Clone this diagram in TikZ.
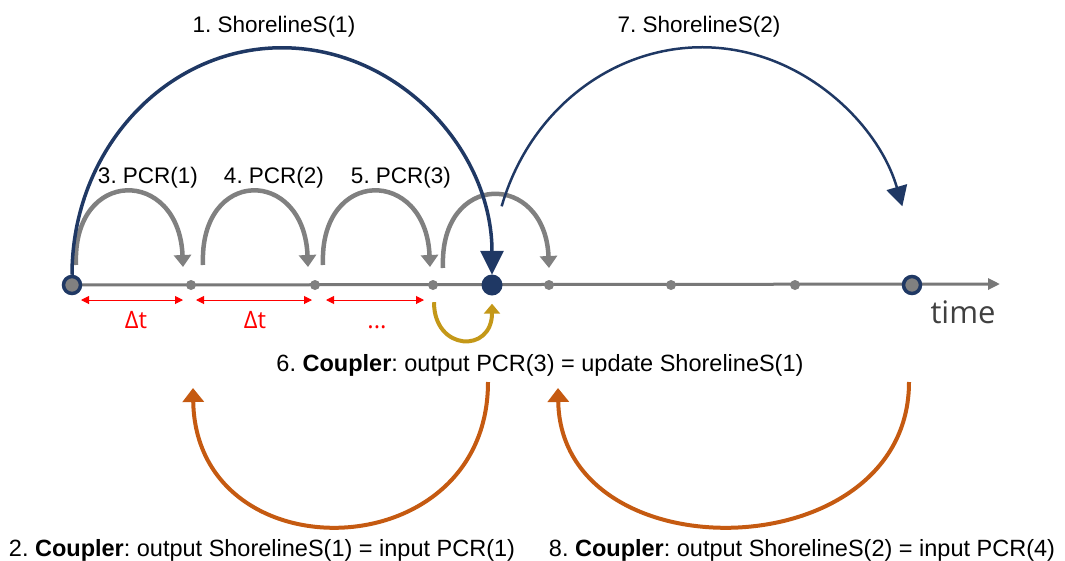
\documentclass[tikz,border=0pt]{standalone}
\usepackage{fontspec}
\setmainfont{Liberation Sans}
\newfontfamily\opensans{Open Sans}
\usetikzlibrary{arrows.meta,calc}
\frenchspacing

\definecolor{navy}{RGB}{31,56,100}
\definecolor{stepgray}{RGB}{128,128,128}
\definecolor{axisgray}{RGB}{120,120,120}
\definecolor{gold}{RGB}{196,152,24}
\definecolor{rust}{RGB}{197,90,17}
\definecolor{timegray}{RGB}{64,64,64}

\tikzset{
  lbl/.style={font=\fontsize{22.5}{27}\selectfont, anchor=base, inner sep=0pt},
  cpl/.style={font=\fontsize{23.5}{28}\selectfont, anchor=base, inner sep=0pt},
  dt/.style={font=\opensans\fontsize{24}{28}\selectfont, text=red, anchor=base, inner sep=0pt},
  tick/.style={circle, fill=stepgray, minimum size=10pt, inner sep=0pt},
  ring/.style={circle, draw=navy, line width=3.5pt, fill=stepgray, minimum size=17pt, inner sep=0pt},
  bigdot/.style={circle, fill=navy, minimum size=21pt, inner sep=0pt},
  pcr/.style={draw=stepgray, line width=4.5pt, -{Triangle[length=12pt,width=17pt]}},
  ship/.style={draw=navy, line width=3.5pt, -{Triangle[length=24pt,width=23pt]}},
  shipthin/.style={draw=navy, line width=2.5pt, -{Triangle[length=20pt,width=21pt]}},
  goldarc/.style={draw=gold, line width=4pt, -{Triangle[length=10pt,width=16pt]}},
  rustarc/.style={draw=rust, line width=4pt, -{Triangle[length=14pt,width=21pt]}},
  span/.style={draw=red, line width=1pt, {Triangle[length=8pt,width=8pt]}-{Triangle[length=8pt,width=8pt]}}
}

\begin{document}
\begin{tikzpicture}[x=1pt,y=1pt]
\useasboundingbox (0,0) rectangle (1065,-560);

% time axis
\coordinate (axisend) at (1000,-284);
\coordinate (axisstart) at (72,-285);
\draw[axisgray, line width=3pt, -{Triangle[length=12pt,width=11pt]}] (axisstart) -- (axisend);

% time steps
\node[ring]   (p0) at (72,-285) {};
\node[tick]   (p1) at (191,-285) {};
\node[tick]   (p2) at (315,-285) {};
\node[tick]   (p3) at (433,-285) {};
\node[bigdot] (p4) at (492,-285) {};
\node[tick]   (p5) at (549,-285) {};
\node[tick]   (p6) at (671,-285) {};
\node[tick]   (p7) at (795,-285) {};
\node[ring]   (p8) at (912,-285) {};

\node[font=\opensans\fontsize{31}{36}\selectfont, text=timegray, anchor=base, inner sep=0pt] (timelbl) at (963,-323) {time};

% PCR steps
\draw[pcr] ($(p0)+(4,20)$)  .. controls +(-4,98) and +(-4,100) .. ($(p1)+(-8,18)$);
\draw[pcr] ($(p1)+(12,20)$) .. controls +(-4,98) and +(-4,100) .. ($(p2)+(-7,18)$);
\draw[pcr] ($(p2)+(8,20)$)  .. controls +(-4,98) and +(-4,100) .. ($(p3)+(-3,18)$);
\draw[pcr] ($(p3)+(10,17)$) .. controls +(-4,97) and +(-4,97) .. ($(p5)+(0,17)$);

\node[lbl] (l3) at (148,-183) {3. PCR(1)};
\node[lbl] (l4) at (274,-183) {4. PCR(2)};
\node[lbl] (l5) at (401,-183) {5. PCR(3)};

% ShorelineS steps
\draw[ship] (p0.north) arc[start angle=180, end angle=0, x radius=210, y radius=227];
\coordinate (s2start) at ($(p4.north)+({210-210*cos(17.43)},68)$);
\draw[shipthin] (s2start) arc[start angle=162.57, end angle=17.43, x radius=210, y radius=227];

\node[lbl] (l1) at (274,-32) {1. ShorelineS(1)};
\node[lbl] (l7) at (699,-32) {7. ShorelineS(2)};

% step sizes
\draw[span] ($(p0)+(9,-15)$) -- ($(p1)+(-8,-15)$);
\draw[span] ($(p1)+(5,-15)$) -- ($(p2)+(-3,-15)$);
\draw[span] ($(p2)+(11,-15)$) -- ($(p3)+(-9,-15)$);
\node[dt] (d1) at (136,-328) {Δt};
\node[dt] (d2) at (255,-328) {Δt};
\node[dt] (d3) at (377,-328) {...};

% coupler: PCR(3) -> ShorelineS(1)
\draw[goldarc] ($(p3.south)+(1,-12)$) .. controls +(0,-49) and +(0,-50) .. ($(p4.south)+(0,-8)$);
\node[cpl] (c6) at (540,-371) {6. \textbf{Coupler}: output PCR(3) = update ShorelineS(1)};

% coupler: ShorelineS -> PCR
\coordinate (r1s) at (488,-382);
\coordinate (r1e) at (193,-388);
\coordinate (r2s) at (909,-382);
\coordinate (r2e) at (558,-388);
\draw[rustarc] (r1s) .. controls +(0,-188) and +(3,-188) .. (r1e);
\draw[rustarc] (r2s) .. controls +(0,-188) and +(3,-188) .. (r2e);

\node[cpl] (c2) at (262,-556) {2. \textbf{Coupler}: output ShorelineS(1) = input PCR(1)};
\node[cpl] (c8) at (802,-556) {8. \textbf{Coupler}: output ShorelineS(2) = input PCR(4)};
\end{tikzpicture}
\end{document}
